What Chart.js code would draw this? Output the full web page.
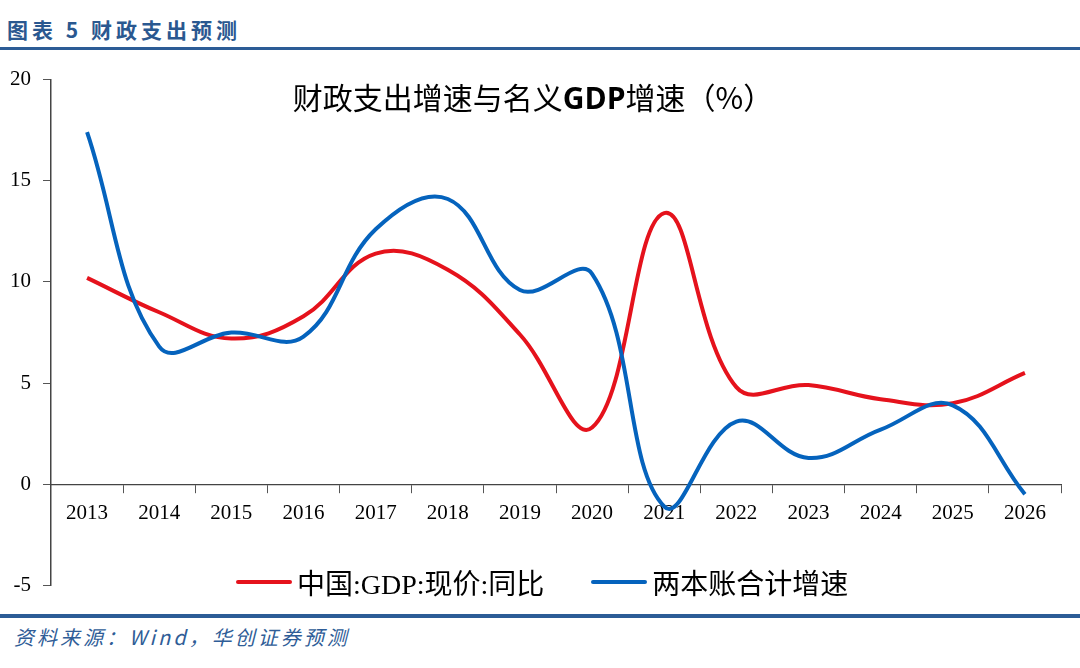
<!DOCTYPE html>
<html>
<head>
<meta charset="utf-8">
<script src="https://cdn.jsdelivr.net/npm/chart.js@4/dist/chart.umd.min.js"></script>
<style>
  html, body { margin: 0; padding: 0; background: #fff; }
  body { width: 1080px; height: 668px; position: relative; overflow: hidden; }
  .hd { position: absolute; left: 7px; top: 14px; font: bold 21px "Noto Sans CJK SC"; letter-spacing: 4px; color: #2a5890; }
  .rule { position: absolute; left: 0; width: 1080px; background: #2c5c96; }
  .ft { position: absolute; left: 14px; top: 622px; font: italic 20px "Noto Sans CJK SC"; letter-spacing: 3px; color: #2f5d97; }
  .title { position: absolute; left: 0; width: 1066px; top: 74px; text-align: center; font: 30px "Noto Sans CJK SC"; color: #000; }
  .title b { font-family: "Open Sans", "Noto Sans CJK SC"; }
  .legend { position: absolute; top: 562px; left: 236px; font: 28px "Liberation Serif", "Noto Sans CJK SC"; color: #000; white-space: nowrap; }
  .legend span { display: inline-block; vertical-align: middle; }
  .legend .sw { width: 56px; height: 4px; border-radius: 2px; margin-right: 5px; }
  #wrap { position: absolute; left: 0; top: 55px; width: 1080px; height: 555px; }
</style>
</head>
<body>
<div class="hd">图表 5 财政支出预测</div>
<div class="rule" style="top:47px;height:3px"></div>
<div id="wrap"><canvas id="c"></canvas></div>
<div class="title">财政支出增速与名义<b>GDP</b>增速（%）</div>
<div class="legend" id="lg"></div>
<div class="rule" style="top:614px;height:4px"></div>
<div class="ft">资料来源：Wind，华创证券预测</div>
<script>
const years = ["2013", "2014", "2015", "2016", "2017", "2018", "2019", "2020", "2021", "2022", "2023", "2024", "2025", "2026"];
const gdpNominal = [10.2, 8.5, 7.2, 8.3, 11.4, 10.6, 7.4, 2.8, 13.4, 4.8, 4.9, 4.2, 4.0, 5.5];
const twoAccounts = [17.4, 6.8, 7.5, 7.3, 12.6, 14.1, 9.6, 10.4, -1.1, 3.1, 1.3, 2.7, 3.9, -0.5];
const yTicks = [-5, 0, 5, 10, 15, 20];

const names = ["中国:GDP:现价:同比", "两本账合计增速"];
const colors = ["#e5121c", "#0563bd"];

// legend as plain text
const lg = document.getElementById("lg");
names.forEach((n, i) => {
    const sw = document.createElement("span");
    sw.className = "sw";
    sw.style.background = colors[i];
    const tx = document.createElement("span");
    tx.textContent = n;
    if (i > 0) sw.style.marginLeft = "47px";
    lg.appendChild(sw);
    lg.appendChild(tx);
});

const serif = { family: "'Liberation Serif', 'Times New Roman', serif", size: 21 };

new Chart(document.getElementById("c"), {
    type: "line",
    data: {
        labels: years,
        datasets: [{
            label: names[0],
            data: gdpNominal,
            borderColor: colors[0],
            borderWidth: 4,
            tension: 0.4,
            pointRadius: 0,
            order: 1
        }, {
            label: names[1],
            data: twoAccounts,
            borderColor: colors[1],
            borderWidth: 4,
            tension: 0.4,
            pointRadius: 0,
            order: 0
        }]
    },
    options: {
        responsive: true,
        maintainAspectRatio: false,
        animation: false,
        layout: { padding: { top: 5, bottom: 5, right: 19, left: 0 } },
        plugins: {
            legend: { display: false },
            tooltip: { enabled: false }
        },
        scales: {
            x: {
                position: { y: 0 },
                offset: true,
                grid: {
                    offset: true,
                    drawOnChartArea: false,
                    tickLength: 8,
                    color: "#555"
                },
                border: { color: "#444", width: 1.2 },
                ticks: {
                    color: "#000",
                    font: serif,
                    padding: 9,
                    maxRotation: 0,
                    autoSkip: false
                }
            },
            y: {
                min: -5,
                max: 20,
                afterBuildTicks: s => { s.ticks = yTicks.map(v => ({ value: v })); },
                afterFit: s => { s.width = 51; },
                grid: {
                    drawOnChartArea: false,
                    tickLength: 8,
                    color: "#555"
                },
                border: { color: "#444", width: 1.5 },
                ticks: {
                    color: "#000",
                    font: serif,
                    padding: 12
                }
            }
        }
    }
});
</script>
</body>
</html>
